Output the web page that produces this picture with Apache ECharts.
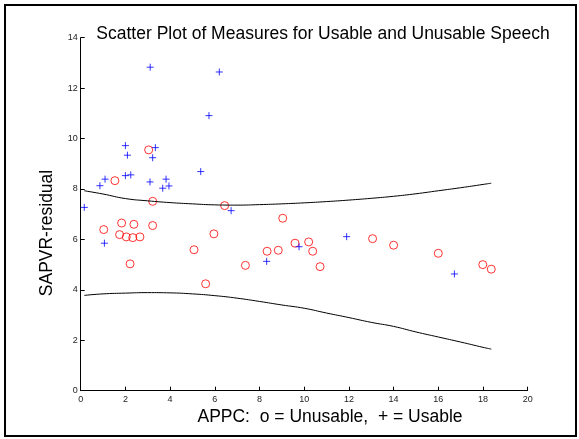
<!DOCTYPE html>
<html>
<head>
<meta charset="utf-8">
<script src="https://cdn.jsdelivr.net/npm/echarts@6/dist/echarts.min.js"></script>
<style>
  html, body { margin: 0; padding: 0; background: #fff; }
  #chart { width: 579px; height: 439px; }
</style>
</head>
<body>
<div id="chart"></div>
<script>
// Usable (+) points: [APPC, SAPVR-residual]
const usable = [
    [0.16, 7.27], [0.86, 8.13], [1.09, 8.39], [2.0, 9.72], [2.09, 9.34],
    [2.0, 8.53], [2.24, 8.56], [3.11, 12.83], [3.34, 9.64], [3.22, 9.24],
    [3.10, 8.28], [3.82, 8.39], [3.67, 8.03], [3.95, 8.12], [5.37, 8.69],
    [5.74, 10.91], [6.20, 12.64], [6.73, 7.14], [1.06, 5.85], [8.32, 5.13],
    [9.77, 5.71], [11.9, 6.11], [16.72, 4.63]
];

// Unusable (o) points
const unusable = [
    [1.53, 8.33], [3.04, 9.55], [3.22, 7.51], [6.44, 7.34], [1.03, 6.39],
    [1.83, 6.65], [2.38, 6.60], [3.22, 6.55], [1.74, 6.19], [2.04, 6.10],
    [2.33, 6.07], [2.65, 6.10], [2.21, 5.03], [5.07, 5.59], [5.96, 6.22],
    [5.59, 4.24], [7.37, 4.97], [8.34, 5.53], [8.84, 5.57], [9.04, 6.84],
    [9.59, 5.85], [10.20, 5.90], [10.38, 5.53], [10.71, 4.92], [13.06, 6.03],
    [14.0, 5.77], [16.0, 5.45], [17.99, 5.00], [18.37, 4.82]
];

// boundary curves
const curveX = [0.16, 1, 2, 3, 4, 5, 6, 7, 8, 9, 10, 11, 12, 13, 14, 15, 16, 17, 18, 18.37];
const upperY = [7.93, 7.80, 7.62, 7.53, 7.46, 7.41, 7.37, 7.36, 7.38, 7.41, 7.45, 7.50, 7.56, 7.63, 7.71, 7.81, 7.93, 8.05, 8.18, 8.23];
const lowerY = [3.78, 3.84, 3.87, 3.89, 3.88, 3.84, 3.77, 3.67, 3.54, 3.40, 3.27, 3.08, 2.90, 2.71, 2.55, 2.33, 2.13, 1.93, 1.72, 1.65];

const titleText = 'Scatter Plot of Measures for Usable and Unusable Speech';
const xLabel = 'APPC:  o = Unusable,  + = Usable';
const yLabel = 'SAPVR-residual';

const font = 'Liberation Sans, Arial, sans-serif';
const plusPath = 'path://M0,5L10,5M5,0L5,10';

const options = {
    animation: false,
    grid: { left: 80.7, right: 51.3, top: 37.7, bottom: 48.3 },
    title: {
        text: titleText,
        left: 318,
        top: 20,
        textAlign: 'center',
        textStyle: { fontFamily: font, fontSize: 17.5, fontWeight: 'normal', color: '#000' }
    },
    xAxis: {
        type: 'value', min: 0, max: 20, interval: 2,
        splitLine: { show: false },
        axisLine: { lineStyle: { color: '#000', width: 1 } },
        axisTick: { inside: true, length: 4, lineStyle: { color: '#000' } },
        axisLabel: { fontFamily: font, fontSize: 9, color: '#222', margin: 4 }
    },
    yAxis: {
        type: 'value', min: 0, max: 14, interval: 2,
        splitLine: { show: false },
        axisLine: { show: true, lineStyle: { color: '#000', width: 1 } },
        axisTick: { show: true, inside: true, length: 4, lineStyle: { color: '#000' } },
        axisLabel: { fontFamily: font, fontSize: 9, color: '#222', margin: 3 }
    },
    graphic: [
        {
            type: 'rect', silent: true,
            shape: { x: 5, y: 5, width: 571, height: 431 },
            style: { fill: 'none', stroke: '#000', lineWidth: 2 }
        },
        {
            type: 'text', x: 330, y: 417, silent: true,
            style: { text: xLabel, font: '17.5px ' + font, fill: '#000', textAlign: 'center', textVerticalAlign: 'middle' }
        },
        {
            type: 'text', x: 47, y: 233, rotation: Math.PI / 2, silent: true,
            style: { text: yLabel, font: '17.5px ' + font, fill: '#000', textAlign: 'center', textVerticalAlign: 'middle' }
        }
    ],
    series: [
        {
            type: 'line', data: curveX.map((x, i) => [x, upperY[i]]),
            showSymbol: false, smooth: true,
            lineStyle: { color: '#000', width: 1 }
        },
        {
            type: 'line', data: curveX.map((x, i) => [x, lowerY[i]]),
            showSymbol: false, smooth: true,
            lineStyle: { color: '#000', width: 1 }
        },
        {
            type: 'scatter', data: unusable, symbol: 'circle', symbolSize: 8,
            itemStyle: { color: 'rgba(0,0,0,0)', borderColor: '#ff0000', borderWidth: 1 }
        },
        {
            type: 'scatter', data: usable, symbol: plusPath, symbolSize: 7,
            itemStyle: { color: 'rgba(0,0,0,0)', borderColor: '#0000ff', borderWidth: 1 }
        }
    ]
};

const E = echarts.init(document.getElementById('chart'));
window.onresize = function () {
    E.resize();
};
E.setOption(options);
</script>
</body>
</html>
